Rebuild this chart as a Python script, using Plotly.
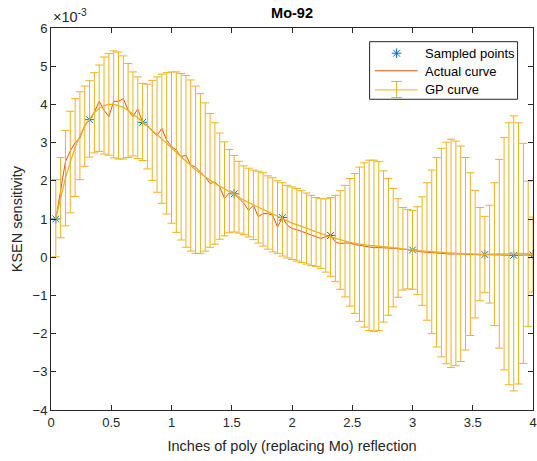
import plotly.graph_objects as go

# GP evaluation grid (inches of poly), step 0.04
gp_x = [round(0.04 * k, 2) for k in range(1, 101)]

# GP posterior mean and error-bar half-width, in units of 1e-3
gp_mean = [
    1.02, 1.56, 2.07, 2.49, 2.87, 3.18, 3.43, 3.62, 3.78, 3.90,
    3.97, 4.00, 4.00, 3.97, 3.92, 3.84, 3.75, 3.65, 3.54, 3.42,
    3.32, 3.21, 3.10, 2.98, 2.87, 2.75, 2.63, 2.51, 2.40, 2.29,
    2.19, 2.10, 2.01, 1.93, 1.86, 1.79, 1.73, 1.66, 1.57, 1.49,
    1.43, 1.37, 1.31, 1.25, 1.17, 1.11, 1.05, 0.99, 0.93, 0.89,
    0.85, 0.80, 0.75, 0.70, 0.66, 0.62, 0.57, 0.53, 0.49, 0.45,
    0.42, 0.39, 0.36, 0.34, 0.32, 0.31, 0.30, 0.29, 0.28, 0.27,
    0.25, 0.24, 0.22, 0.21, 0.19, 0.17, 0.16, 0.15, 0.14, 0.13,
    0.12, 0.11, 0.10, 0.10, 0.09, 0.09, 0.08, 0.08, 0.08, 0.07,
    0.08, 0.08, 0.09, 0.09, 0.09, 0.10, 0.10, 0.10, 0.09, 0.07,
]
gp_err = [
    1.01, 1.05, 1.25, 1.33, 1.28, 1.15, 1.05, 1.00, 1.05, 1.13,
    1.27, 1.33, 1.40, 1.40, 1.35, 1.23, 1.10, 1.07, 1.01, 1.11,
    1.31, 1.51, 1.69, 1.85, 1.98, 2.10, 2.18, 2.25, 2.24, 2.19,
    2.09, 1.94, 1.75, 1.59, 1.39, 1.23, 1.09, 1.00, 0.94, 0.90,
    0.90, 0.91, 0.94, 0.96, 0.96, 0.97, 0.95, 0.96, 0.95, 0.95,
    0.95, 0.94, 0.93, 0.92, 0.90, 0.91, 0.96, 1.03, 1.13, 1.29,
    1.46, 1.67, 1.83, 2.02, 2.15, 2.23, 2.24, 2.21, 1.98, 1.79,
    1.55, 1.29, 1.08, 1.04, 1.03, 1.15, 1.42, 1.80, 2.14, 2.48,
    2.73, 2.90, 2.99, 2.94, 2.82, 2.52, 2.13, 1.67, 1.22, 1.00,
    1.28, 1.87, 2.47, 3.04, 3.43, 3.60, 3.42, 2.88, 1.90, 0.98,
]

# Reference (actual) sensitivity curve on the same grid, units of 1e-3
actual_y = [
    1.00, 1.75, 2.50, 2.78, 3.00, 3.12, 3.45, 3.60, 3.80, 4.08,
    3.85, 3.68, 4.08, 4.08, 4.15, 3.85, 3.68, 3.88, 3.53, 3.45,
    3.30, 3.19, 3.37, 3.06, 2.90, 2.80, 2.63, 2.67, 2.41, 2.36,
    2.23, 2.10, 1.93, 1.97, 1.84, 1.54, 1.68, 1.66, 1.54, 1.41,
    1.23, 1.36, 1.06, 1.14, 1.14, 1.10, 0.79, 1.04, 0.84, 0.75,
    0.72, 0.67, 0.62, 0.58, 0.52, 0.49, 0.54, 0.57, 0.40, 0.36,
    0.37, 0.37, 0.33, 0.31, 0.28, 0.26, 0.25, 0.25, 0.25, 0.24,
    0.23, 0.22, 0.21, 0.20, 0.19, 0.15, 0.14, 0.12, 0.11, 0.10,
    0.09, 0.09, 0.08, 0.09, 0.08, 0.07, 0.07, 0.07, 0.06, 0.07,
    0.06, 0.06, 0.06, 0.05, 0.05, 0.05, 0.05, 0.05, 0.05, 0.06,
]

# Training samples
sample_x = [0.04, 0.32, 0.76, 1.52, 1.92, 2.32, 3.00, 3.60, 3.84, 4.00]
sample_y = [1.00, 3.60, 3.53, 1.66, 1.04, 0.57, 0.19, 0.07, 0.05, 0.06]

x_ticks = [0, 0.5, 1, 1.5, 2, 2.5, 3, 3.5, 4]
x_tick_text = ["0", "0.5", "1", "1.5", "2", "2.5", "3", "3.5", "4"]
y_ticks = [-4, -3, -2, -1, 0, 1, 2, 3, 4, 5, 6]

BLUE = "#0072BD"
RED = "#D95319"
YELLOW = "#EDB120"
AXIS = "#262626"
FONT = "Liberation Sans, Arial, Helvetica, sans-serif"

fig = go.Figure()

fig.add_trace(go.Scatter(
    x=sample_x, y=sample_y, mode="markers", name="Sampled points",
    marker=dict(symbol="asterisk-open", size=8, color=BLUE,
                line=dict(color=BLUE, width=1)),
))
fig.add_trace(go.Scatter(
    x=gp_x, y=actual_y, mode="lines", name="Actual curve",
    line=dict(color=RED, width=1),
))
fig.add_trace(go.Scatter(
    x=gp_x, y=gp_mean, mode="lines", name="GP curve",
    line=dict(color=YELLOW, width=1.3),
    error_y=dict(type="data", array=gp_err, visible=True,
                 color=YELLOW, thickness=1, width=4),
))

# legend glyph for the sampled points, on a unit overlay axis
fig.add_trace(go.Scatter(
    x=[0.717], y=[0.934], xaxis="x2", yaxis="y2", mode="markers",
    marker=dict(symbol="asterisk-open", size=8, color=BLUE,
                line=dict(color=BLUE, width=1)),
    hoverinfo="skip",
))

axis_common = dict(
    showgrid=False, zeroline=False, showline=True, linecolor=AXIS,
    linewidth=1, mirror="ticks", ticks="inside", ticklen=5,
    tickcolor=AXIS, tickwidth=1, automargin=False,
    tickfont=dict(family=FONT, size=13, color=AXIS),
)

fig.update_layout(
    width=537, height=461,
    margin=dict(l=51, r=4, t=28, b=51),
    paper_bgcolor="white", plot_bgcolor="white",
    showlegend=False,
    font=dict(family=FONT, size=13, color=AXIS),
    title=dict(text="<b>Mo-92</b>", x=0.5, xref="paper",
               y=1 - 13 / 461, yref="container", yanchor="middle",
               font=dict(family=FONT, size=14.5, color="#000000")),
    xaxis=dict(range=[0, 4], tickvals=x_ticks, ticktext=x_tick_text,
               title=dict(text="Inches of poly (replacing Mo) reflection",
                          font=dict(family=FONT, size=14.5, color=AXIS),
                          standoff=12),
               **axis_common),
    yaxis=dict(range=[-4, 6], tickvals=y_ticks, **axis_common),
    xaxis2=dict(overlaying="x", range=[0, 1], visible=False),
    yaxis2=dict(overlaying="y", range=[0, 1], visible=False),
)

# legend frame and glyphs
shapes = [
    dict(type="rect", xref="paper", yref="paper", x0=0.661, x1=0.968,
         y0=0.8134, y1=0.9642, line=dict(color=AXIS, width=1),
         fillcolor="white", layer="below"),
    dict(type="line", xref="paper", yref="paper", x0=0.672, x1=0.761,
         y0=0.888, y1=0.888, line=dict(color=RED, width=1)),
    dict(type="line", xref="paper", yref="paper", x0=0.672, x1=0.761,
         y0=0.838, y1=0.838, line=dict(color=YELLOW, width=1)),
    dict(type="line", xref="paper", yref="paper", x0=0.717, x1=0.717,
         y0=0.818, y1=0.860, line=dict(color=YELLOW, width=1)),
    dict(type="line", xref="paper", yref="paper", x0=0.706, x1=0.728,
         y0=0.818, y1=0.818, line=dict(color=YELLOW, width=1)),
    dict(type="line", xref="paper", yref="paper", x0=0.706, x1=0.728,
         y0=0.860, y1=0.860, line=dict(color=YELLOW, width=1)),
]
fig.update_layout(shapes=shapes)

legend_rows = [("Sampled points", 0.934), ("Actual curve", 0.886), ("GP curve", 0.838)]
annotations = [
    dict(text=label, xref="paper", yref="paper", x=0.771, y=yy,
         xanchor="left", yanchor="middle", showarrow=False,
         font=dict(family=FONT, size=13, color="#000000"))
    for label, yy in legend_rows
]
# y-axis title
annotations.append(dict(
    text="KSEN sensitivity", xref="paper", yref="paper",
    x=-0.07, y=0.5, xanchor="center", yanchor="middle", textangle=-90,
    showarrow=False, font=dict(family=FONT, size=14.5, color=AXIS),
))
# axis exponent
annotations.append(dict(
    text="×10<sup>-3</sup>", xref="paper", yref="paper", x=0.0, y=1.0,
    xanchor="left", yanchor="bottom", yshift=1, showarrow=False,
    font=dict(family=FONT, size=14.5, color=AXIS),
))
fig.update_layout(annotations=annotations)

fig.write_html("out.html")
